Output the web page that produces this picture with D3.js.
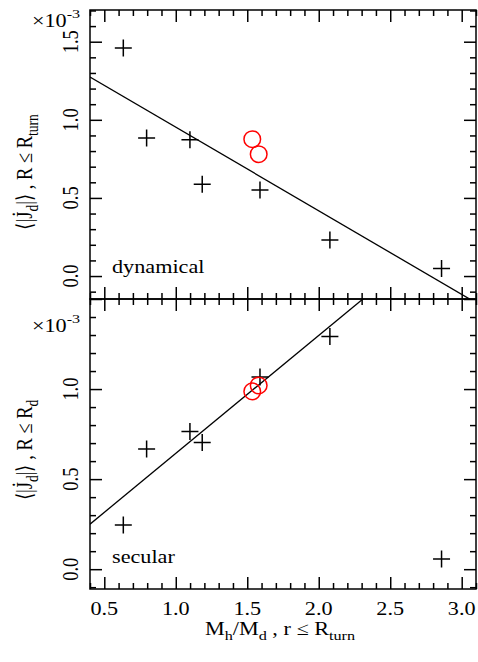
<!DOCTYPE html>
<html>
<head>
<meta charset="utf-8">
<script src="https://cdn.jsdelivr.net/npm/d3@7"></script>
<style>
  body { margin: 0; background: #fff; }
</style>
</head>
<body>
<svg></svg>
<script>
// values, in units of 1e-3
var massRatio = [0.633, 0.796, 1.099, 1.185, 1.589, 2.078, 2.859];
var jdotTurn  = [1.46, 0.883, 0.872, 0.588, 0.551, 0.231, 0.049];
var jdotRd    = [0.246, 0.667, 0.765, 0.703, 1.067, 1.292, 0.056];

var circRatio = [1.535, 1.58];
var circTurn  = [0.876, 0.780];
var circRd    = [0.987, 1.020];

// fitted lines, value at x = 0.4 and x = 3.1
var fitX    = [0.4, 3.1];
var fitTurn = [1.274, -0.171];
var fitRd   = [0.25, 2.018];

var xTicks      = [0.5, 1.0, 1.5, 2.0, 2.5, 3.0];
var xTickLabels = ["0.5", "1.0", "1.5", "2.0", "2.5", "3.0"];
var yTicksTurn  = [0.0, 0.5, 1.0, 1.5];
var yLabelsTurn = ["0.0", "0.5", "1.0", "1.5"];
var yTicksRd    = [0.0, 0.5, 1.0, 1.5];
var yLabelsRd   = ["0.0", "0.5", "1.0"];

var W = 478, H = 662;
var left = 90, right = 476;
var fs = 18.5, sx = 1.2;  // the original figure is stretched sideways
var serif = "'Liberation Serif', 'Times New Roman', serif";

var svg = d3.select("svg").attr("width", W).attr("height", H)
  .attr("font-family", serif);
svg.append("rect").attr("width", W).attr("height", H).attr("fill", "#fff");

var x = d3.scaleLinear().domain([0.4, 3.1]).range([left, right]);

function minorOf(lo, hi, majors) {
  return d3.range(Math.round(lo * 10), Math.round(hi * 10) + 1)
    .map(function(i) { return i / 10; })
    .filter(function(v) { return majors.indexOf(v) < 0; });
}
var xMinor = minorOf(0.4, 3.1, xTicks);

// put a (stretched) text at a point
function label(g, px, py, rot) {
  var t = "translate(" + px + "," + py + ") scale(" + sx + ",1)";
  if (rot) t += " rotate(-90)";
  return g.append("text").attr("transform", t)
    .style("font-family", serif).style("font-size", fs + "px").attr("fill", "#000");
}

var panels = [
  { top: 10, bottom: 299, domain: [-0.147, 1.703], ys: jdotTurn, cy: circTurn, fit: fitTurn,
    ticks: yTicksTurn, labels: yLabelsTurn, name: "dynamical", sub: "turn", expY: 27 },
  { top: 299, bottom: 589, domain: [-0.11, 1.5], ys: jdotRd, cy: circRd, fit: fitRd,
    ticks: yTicksRd, labels: yLabelsRd, name: "secular", sub: "d", expY: 332 }
];

panels.forEach(function(p, k) {
  var y = d3.scaleLinear().domain(p.domain).range([p.bottom, p.top]);
  var yMinor = minorOf(Math.ceil(p.domain[0] * 10) / 10, Math.floor(p.domain[1] * 10) / 10, p.ticks);
  var g = svg.append("g");

  var clipId = "clip" + k;
  svg.append("clipPath").attr("id", clipId).append("rect")
    .attr("x", left).attr("y", p.top).attr("width", right - left).attr("height", p.bottom - p.top);

  // axes: major and minor ticks on all four sides, pointing inwards
  function axes(vals, len) {
    var ax = [
      [d3.axisBottom(x).tickValues(vals), "translate(0," + p.bottom + ")"],
      [d3.axisTop(x).tickValues(vals), "translate(0," + p.top + ")"]
    ];
    var yv = vals === xTicks ? p.ticks : yMinor;
    ax.push([d3.axisLeft(y).tickValues(yv), "translate(" + left + ",0)"]);
    ax.push([d3.axisRight(y).tickValues(yv), "translate(" + right + ",0)"]);
    ax.forEach(function(a) {
      var s = g.append("g").attr("transform", a[1])
        .call(a[0].tickSize(-len).tickFormat(""));
      s.select(".domain").remove();
      s.selectAll("line").attr("stroke", "#000").attr("stroke-width", 1.5);
    });
  }
  axes(xTicks, 12);
  axes(xMinor, 6);

  g.append("rect").attr("x", left).attr("y", p.top)
    .attr("width", right - left).attr("height", p.bottom - p.top)
    .attr("fill", "none").attr("stroke", "#000").attr("stroke-width", 1.5);

  // fitted line
  g.append("path")
    .datum(fitX.map(function(v, i) { return [v, p.fit[i]]; }))
    .attr("clip-path", "url(#" + clipId + ")")
    .attr("d", d3.line().x(function(d) { return x(d[0]); }).y(function(d) { return y(d[1]); }))
    .attr("fill", "none").attr("stroke", "#000").attr("stroke-width", 1.3);

  // crosses
  var c = 8.5;
  g.selectAll(".cross").data(massRatio).enter().append("path")
    .attr("d", function(d, i) {
      var px = x(d), py = y(p.ys[i]);
      return "M" + (px - c) + "," + py + "H" + (px + c) + "M" + px + "," + (py - c) + "V" + (py + c);
    })
    .attr("stroke", "#000").attr("stroke-width", 1.5).attr("fill", "none");

  // red circles
  g.selectAll(".circ").data(circRatio).enter().append("circle")
    .attr("cx", function(d) { return x(d); })
    .attr("cy", function(d, i) { return y(p.cy[i]); })
    .attr("r", 8.3)
    .attr("fill", "none").attr("stroke", "#f00").attr("stroke-width", 1.5);

  // y tick labels, rotated
  p.labels.forEach(function(l, i) {
    label(g, 78, y(p.ticks[i]), true).attr("text-anchor", "middle").text(l);
  });

  // x10^-3
  var e = label(g, 32, p.expY, false);
  e.append("tspan").text("\u00d710");
  e.append("tspan").attr("dy", -9).style("font-size", "13.5px").text("-3");

  // panel name
  label(g, 112, p.bottom - 26, false).text(p.name);

  // y title
  var cyT = k === 0 ? 172 : 450;
  var t = label(g, 32, cyT, true).attr("text-anchor", "middle");
  t.append("tspan").text("\u27e8|J\u0307");
  t.append("tspan").attr("dy", 5).style("font-size", "13.5px").text("d");
  t.append("tspan").attr("dy", -5).text("|\u27e9 ,  R \u2264 R");
  t.append("tspan").attr("dy", 5).style("font-size", "13.5px").text(p.sub);
});

// x tick labels
var gx = svg.append("g");
xTicks.forEach(function(v, i) {
  label(gx, x(v), 615, false).attr("text-anchor", "middle").text(xTickLabels[i]);
});

// x title
var xt = label(gx, 280, 635, false).attr("text-anchor", "middle");
xt.append("tspan").text("M");
xt.append("tspan").attr("dy", 5).style("font-size", "13.5px").text("h");
xt.append("tspan").attr("dy", -5).text("/M");
xt.append("tspan").attr("dy", 5).style("font-size", "13.5px").text("d");
xt.append("tspan").attr("dy", -5).text(" ,  r \u2264 R");
xt.append("tspan").attr("dy", 5).style("font-size", "13.5px").text("turn");
</script>
</body>
</html>
